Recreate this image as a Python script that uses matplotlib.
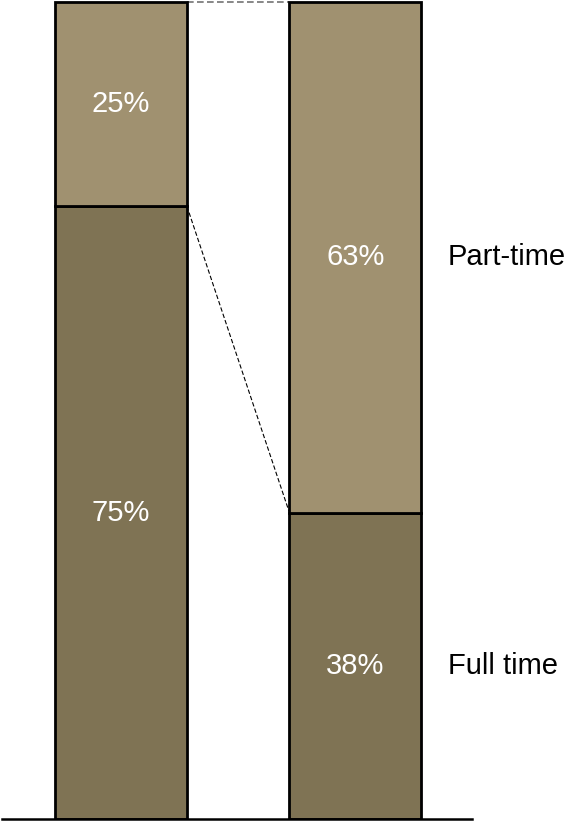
import matplotlib.pyplot as plt

plt.rcParams['font.family'] = ['Liberation Sans', 'DejaVu Sans']

# shares of each group (percent)
groups = ["A", "B"]
full_time = [75.0, 37.5]
part_time = [25.0, 62.5]
series_names = ["Full time", "Part-time"]

dark = "#7f7354"
light = "#a09170"


def pct(v):
    # round half up so 37.5 -> 38, 62.5 -> 63
    return f"{int(v + 0.5)}%"


fig = plt.figure(figsize=(5.82, 8.22), dpi=100)
ax = fig.add_axes([2 / 582, 3 / 822, 470 / 582, 817 / 822])

x = list(range(len(groups)))
w = 0.563
ax.bar(x, full_time, width=w, color=dark, edgecolor="black", linewidth=2, zorder=2)
ax.bar(x, part_time, width=w, bottom=full_time, color=light, edgecolor="black",
       linewidth=2, zorder=2, clip_on=False)

# connector lines between the two bars
tops = [f + p for f, p in zip(full_time, part_time)]
ax.plot([x[0] + w / 2, x[1] - w / 2], [tops[0], tops[1]], ls="--", color="0.45",
        lw=1.2, dashes=(4, 2), clip_on=False, zorder=1)
ax.plot([x[0] + w / 2, x[1] - w / 2], [full_time[0], full_time[1]], ls="--", color="black",
        lw=0.8, dashes=(4, 2), clip_on=False, zorder=1)

for i in x:
    ax.text(i, full_time[i] / 2, pct(full_time[i]), ha="center", va="center",
            color="white", fontsize=21, zorder=3)
    ax.text(i, full_time[i] + part_time[i] / 2, pct(part_time[i]), ha="center",
            va="center", color="white", fontsize=21, zorder=3)

# series names to the right of the last bar
last = x[-1]
ax.text(1.394, full_time[last] / 2, series_names[0], ha="left", va="center",
        fontsize=21, clip_on=False)
ax.text(1.394, full_time[last] + part_time[last] / 2, series_names[1], ha="left",
        va="center", fontsize=21, clip_on=False)

ax.set_xlim(-0.507, 1.497)
ax.set_ylim(0, 100)
for s in ["top", "left", "right"]:
    ax.spines[s].set_visible(False)
ax.spines["bottom"].set_linewidth(1.8)
ax.set_xticks([])
ax.set_yticks([])

fig.savefig("out.png", dpi=100)
